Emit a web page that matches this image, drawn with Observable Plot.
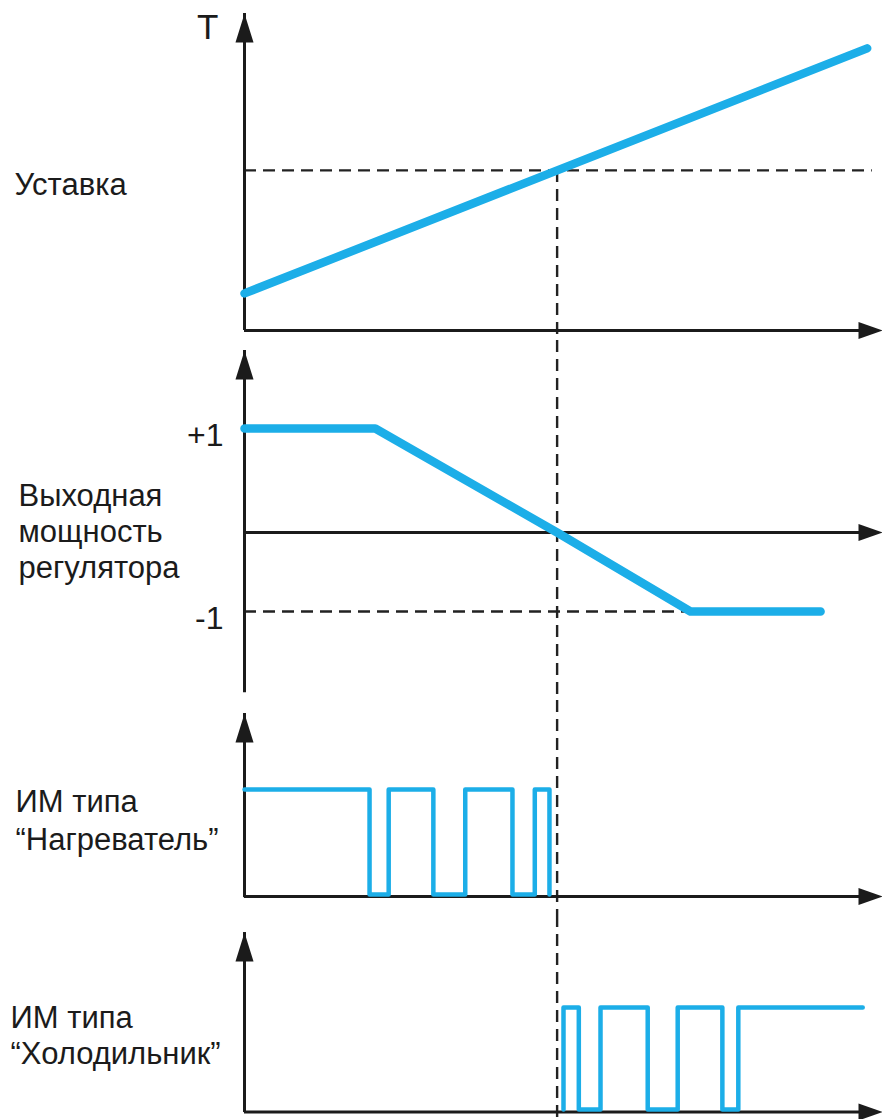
<!DOCTYPE html>
<html>
<head>
<meta charset="utf-8">
<script src="https://cdn.jsdelivr.net/npm/d3@7"></script>
<script src="https://cdn.jsdelivr.net/npm/@observablehq/plot@0.6"></script>
<style>
  html, body { margin: 0; padding: 0; background: #fff; }
  #chart svg { display: block; }
</style>
</head>
<body>
<div id="chart"></div>
<script>
// ---------- data ----------
// common time axis (arbitrary units)
const timeDomain = [0, 100];
const crossingTime = 49;              // moment the temperature reaches the setpoint

// Panel 1: temperature
const tempTimes = [0, 97.6];
const tempValues = [11.7, 89.0];
const setpoint = 50.5;
const setpointLineEnd = 98.4;

// Panel 2: regulator output power
const powerTimes = [0, 20.5, 49, 69.9, 90.3];
const powerValues = [1, 1, 0, -1, -1];
const powerTicks = [1, -1];
const powerTickLabels = ["+1", "-1"];
const powerLimitEnd = 69.9;

// Panel 3: heater actuator (switch time, state after switch)
const heaterTimes = [0, 19.6, 22.6, 29.6, 34.6, 42.0, 45.5, 47.8];
const heaterStates = [1, 0, 1, 0, 1, 0, 1, 0];

// Panel 4: cooler actuator (switch time, state after switch)
const coolerTimes = [50.0, 50.0, 52.4, 55.8, 63.2, 67.9, 74.9, 77.4, 96.9];
const coolerStates = [0, 1, 0, 1, 0, 1, 0, 1, 1];

// texts
const axisLabel = "T";
const panelLabels = [
  "Уставка",
  "Выходная\nмощность\nрегулятора",
  "ИМ типа\n“Нагреватель”",
  "ИМ типа\n“Холодильник”"
];

// ---------- styling ----------
const W = 882, LEFT = 244;
const BLUE = "#1caee8", INK = "#1b1b1b", DASH = "#222";
const FONT = "'Liberation Sans', Arial, sans-serif";
const FS = 31;
const dashStyle = {stroke: DASH, strokeWidth: 2.4, strokeDasharray: "12,7"};
const axisStyle = {stroke: INK, strokeWidth: 3};

function arrowSymbol(len, halfW) {
  return {draw(ctx) { ctx.moveTo(0, 0); ctx.lineTo(halfW, len); ctx.lineTo(-halfW, len); ctx.closePath(); }};
}
const arrowY = arrowSymbol(29, 9);
const arrowX = arrowSymbol(24, 8.5);

const zip = (xs, ys) => xs.map((x, i) => ({x, y: ys[i]}));

function panel(height, yScale, marks) {
  return Plot.plot({
    width: W, height,
    marginLeft: 0, marginRight: 0, marginTop: 0, marginBottom: 0,
    x: {domain: timeDomain, range: [LEFT, W], axis: null},
    y: {...yScale, axis: null},
    style: {fontFamily: FONT, background: "white", overflow: "visible"},
    marks
  });
}

function axes(yBottom, yTop, xAxisDy = 0) {
  return [
    Plot.ruleX([timeDomain[0]], {y1: yBottom, y2: yTop, ...axisStyle}),
    Plot.ruleY([0], {x1: timeDomain[0], x2: timeDomain[1] - 1, dy: xAxisDy, ...axisStyle}),
    Plot.dot([{x: timeDomain[0], y: yTop}], {x: "x", y: "y", symbol: arrowY, r: 1, fill: INK, stroke: null}),
    Plot.dot([{x: timeDomain[1], y: 0}], {x: "x", y: "y", symbol: arrowX, r: 1, fill: INK, stroke: null, rotate: 90, dy: xAxisDy})
  ];
}

const labelStyle = {fill: INK, fontSize: FS, textAnchor: "start", frameAnchor: "left", text: d => d};

const p1 = panel(340, {domain: [0, 100], range: [330, 13]}, [
  Plot.ruleY([setpoint], {x1: timeDomain[0], x2: setpointLineEnd, ...dashStyle}),
  Plot.ruleX([crossingTime], {y1: setpoint, y2: -3.2, ...dashStyle}),
  ...axes(0, 100),
  Plot.line(zip(tempTimes, tempValues), {x: "x", y: "y", stroke: BLUE, strokeWidth: 8.5}),
  Plot.text([axisLabel], {x: timeDomain[0], y: 100, text: d => d, dx: -26, textAnchor: "end", lineAnchor: "top", dy: 1, fontSize: 35, fill: INK}),
  Plot.text([panelLabels[0]], {...labelStyle, y: setpoint, dx: 14, lineAnchor: "top", dy: 3})
]);

const p2 = panel(360, {type: "linear", domain: [-1, 0, 1], range: [271, 192, 88]}, [
  Plot.ruleY([-1], {x1: timeDomain[0], x2: powerLimitEnd, ...dashStyle}),
  Plot.ruleX([crossingTime], dashStyle),
  ...axes(-2.03, 1.75),
  Plot.line(zip(powerTimes, powerValues), {x: "x", y: "y", stroke: BLUE, strokeWidth: 8.5}),
  Plot.text(powerTicks, {x: timeDomain[0], y: d => d, text: (d, i) => powerTickLabels[i], dx: -21, dy: 7, textAnchor: "end", fontSize: 32, fill: INK}),
  Plot.text([panelLabels[1]], {...labelStyle, y: 0, dx: 18, lineAnchor: "middle", lineHeight: 1.16, dy: -2})
]);

const p3 = panel(215, {domain: [0, 1], range: [194, 89]}, [
  Plot.ruleX([crossingTime], dashStyle),
  ...axes(-0.03, 1.724, 2),
  Plot.line(zip(heaterTimes, heaterStates), {x: "x", y: "y", curve: "step-after", stroke: BLUE, strokeWidth: 4.5}),
  Plot.text([panelLabels[2]], {...labelStyle, y: 1, dx: 15, lineAnchor: "top", lineHeight: 1.22, dy: -4})
]);

const p4 = panel(204, {domain: [0, 1], range: [194, 92]}, [
  Plot.ruleX([crossingTime], dashStyle),
  ...axes(-0.03, 1.735, 2.5),
  Plot.line(zip(coolerTimes, coolerStates), {x: "x", y: "y", curve: "step-after", stroke: BLUE, strokeWidth: 4.5}),
  Plot.text([panelLabels[3]], {...labelStyle, y: 1, dx: 10, lineAnchor: "top", lineHeight: 1.16, dy: -5})
]);

const root = document.getElementById("chart");
[p1, p2, p3, p4].forEach(p => root.appendChild(p));
</script>
</body>
</html>
